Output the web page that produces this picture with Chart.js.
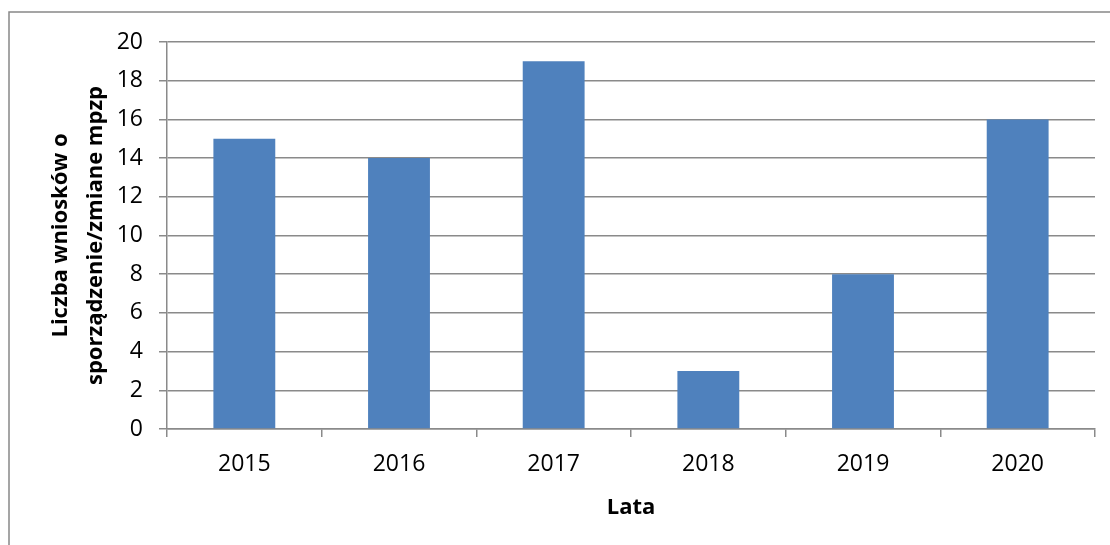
<!DOCTYPE html>
<html>
<head>
<meta charset="utf-8">
<script src="https://cdn.jsdelivr.net/npm/chart.js@4"></script>
<style>
  html, body { margin: 0; padding: 0; background: #fff; }
  canvas { display: block; }
</style>
</head>
<body>
<canvas id="chart" width="1110" height="545"></canvas>
<script>
// dane z wykresu
const years = ['2015', '2016', '2017', '2018', '2019', '2020'];
const counts = [15, 14, 19, 3, 8, 16];
const yTitleLines = ['Liczba wniosków o', 'sporządzenie/zmiane mpzp'];
const xTitle = 'Lata';

const FONT = '"Open Sans", sans-serif';
const GRID = '#8a8a8a';

// ramka wokół całego wykresu (prawa i dolna krawędź poza kadrem)
const frame = {
  id: 'frame',
  beforeDraw(chart) {
    const c = chart.ctx;
    c.save();
    c.fillStyle = '#fff';
    c.fillRect(0, 0, chart.width, chart.height);
    c.strokeStyle = '#888';
    c.lineWidth = 1.5;
    c.strokeRect(9, 12, chart.width + 20, chart.height + 20);
    c.restore();
  }
};

new Chart(document.getElementById('chart'), {
  type: 'bar',
  data: {
    labels: years,
    datasets: [{
      data: counts,
      backgroundColor: '#4F81BD',
      borderWidth: 0,
      barPercentage: 0.4,
      categoryPercentage: 1.0,
    }],
  },
  options: {
    responsive: false,
    devicePixelRatio: 1,
    animation: false,
    layout: { padding: { top: 42, right: 15, left: 0, bottom: 0 } },
    scales: {
      x: {
        grid: {
          offset: true,
          drawOnChartArea: false,
          color: GRID,
          lineWidth: 1.5,
          tickLength: 8,
        },
        border: { color: GRID, width: 1.5 },
        ticks: {
          color: '#000',
          padding: 14,
          font: { family: FONT, size: 23 },
        },
        title: {
          display: true,
          text: xTitle,
          color: '#000',
          padding: { top: 0, bottom: 24 },
          font: { family: FONT, size: 22, weight: 'bold' },
        },
        afterFit: (s) => { s.height = 116; },
      },
      y: {
        min: 0,
        max: 20,
        ticks: {
          stepSize: 2,
          color: '#000',
          padding: 16,
          font: { family: FONT, size: 23 },
        },
        grid: { color: GRID, lineWidth: 1.5, tickLength: 8 },
        border: { color: GRID, width: 1.5 },
        title: {
          display: true,
          text: yTitleLines,
          color: '#000',
          padding: { top: 43, bottom: 0 },
          font: { family: FONT, size: 22, weight: 'bold', lineHeight: 1.59 },
        },
        afterFit: (s) => { s.width = 167; },
      },
    },
    plugins: {
      legend: { display: false },
      tooltip: { enabled: false },
    },
  },
  plugins: [frame],
});
</script>
</body>
</html>
